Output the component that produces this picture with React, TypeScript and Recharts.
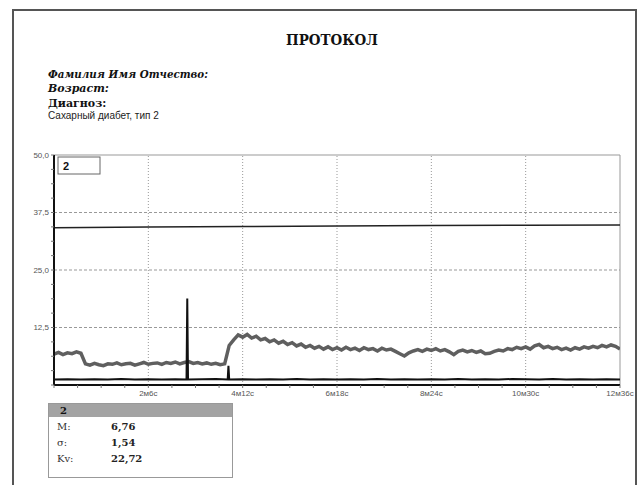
import { LineChart, Line, XAxis, YAxis, ReferenceLine } from 'recharts'

// sampling step of the glucose trace, seconds
const STEP = 6

const glucose = [
  6.7, 7.1, 6.6, 7.0, 6.8, 7.2, 6.9,
  4.6, 4.3, 4.7, 4.4, 4.2, 4.6, 4.5, 4.8, 4.4, 4.6, 4.7, 4.3, 4.6, 4.9, 4.5, 4.7,
  4.8, 4.5, 4.9, 4.7, 5.0, 4.6, 4.9, 5.1, 4.7, 4.9, 4.6, 4.8, 4.5, 4.7, 4.4, 4.6,
  8.6, 9.8, 10.9, 10.4, 11.0, 10.2, 10.6, 9.8, 10.1, 9.4, 9.8, 9.1, 9.5, 8.8, 9.2,
  8.5, 8.9, 8.2, 8.6, 8.0, 8.4, 7.8, 8.3, 7.7, 8.1, 7.6, 8.2, 7.7, 8.0, 7.5, 8.1,
  7.7, 7.9, 7.4, 8.0, 7.6, 7.8, 7.3, 6.8, 6.3, 7.0, 7.4, 7.7, 7.3, 7.8, 7.5, 7.9,
  7.4, 7.7, 7.2, 6.6, 7.3, 7.6, 7.2, 7.5, 7.1, 7.4, 6.8, 6.9, 7.3, 7.6, 7.4, 7.9,
  7.7, 8.2, 7.9, 8.3, 7.8, 8.5, 8.8, 8.1, 8.4, 7.9, 8.2, 7.7, 8.0, 7.6, 8.1, 7.8,
  8.3, 8.0, 8.4, 8.1, 8.6, 8.3, 8.7, 8.4, 7.8,
]

const upperTrace: [number, number][] = [
  [0, 34.2], [126, 34.35], [252, 34.45], [378, 34.55], [504, 34.65], [630, 34.75], [756, 34.8],
]

const lowerTrace: [number, number][] = [
  [0, 1.2], [18, 1.25], [36, 1.2], [54, 1.25], [72, 1.2], [90, 1.3], [108, 1.2], [126, 1.25],
  [144, 1.2], [162, 1.25], [177, 1.2], [178, 18.8], [179, 1.2], [198, 1.25], [216, 1.3],
  [232, 1.2], [233, 4.2], [234, 1.2], [252, 1.25], [270, 1.2], [288, 1.25], [306, 1.2],
  [324, 1.3], [342, 1.2], [360, 1.25], [378, 1.2], [396, 1.25], [414, 1.2], [432, 1.3],
  [450, 1.2], [468, 1.25], [486, 1.2], [504, 1.25], [522, 1.2], [540, 1.3], [558, 1.2],
  [576, 1.25], [594, 1.2], [612, 1.3], [630, 1.25], [648, 1.2], [666, 1.3], [684, 1.2],
  [702, 1.25], [720, 1.2], [738, 1.25], [756, 1.2],
]

const majorTicks = [126, 252, 378, 504, 630, 756]
const majorLabels = ['2м6с', '4м12с', '6м18с', '8м24с', '10м30с', '12м36с']
const yMajor = [12.5, 25, 37.5, 50]
const yLabels = ['12,5', '25,0', '37,5', '50,0']

const stats = [
  { label: 'M:', value: '6,76' },
  { label: 'σ:', value: '1,54' },
  { label: 'Kv:', value: '22,72' },
]

const glucoseData = glucose.map((v, i) => ({ t: i * STEP, v }))
const upperData = upperTrace.map(([t, v]) => ({ t, v }))
const lowerData = lowerTrace.map(([t, v]) => ({ t, v }))

const xTicks = Array.from({ length: 25 }, (_, i) => i * 31.5)
const yTicks = Array.from({ length: 17 }, (_, i) => i * 3.125)

const fmtX = (t: number) => {
  const i = majorTicks.indexOf(t)
  return i >= 0 ? majorLabels[i] : ''
}
const fmtY = (v: number) => {
  const i = yMajor.indexOf(v)
  return i >= 0 ? yLabels[i] : ''
}

const serif = '"DejaVu Serif", serif'
const sans = '"Liberation Sans", Arial, sans-serif'

const App = () => {
  return (
    <div style={{ position: 'absolute', left: 0, top: 0, width: 640, height: 485, overflow: 'hidden', background: '#fff' }}>
      <div style={{ position: 'absolute', left: 0, top: 0 }}>
        <LineChart width={640} height={485} margin={{ top: 155, right: 20, bottom: 80, left: 10 }}>
          <XAxis
            dataKey="t"
            type="number"
            domain={[0, 756]}
            ticks={xTicks}
            tickFormatter={fmtX}
            interval={0}
            height={20}
            tickSize={3}
            axisLine={{ stroke: '#111', strokeWidth: 2 }}
            tickLine={{ stroke: '#777' }}
            tick={{ fontSize: 8, fill: '#555', fontFamily: sans }}
            allowDataOverflow
          />
          <YAxis
            type="number"
            domain={[0, 50]}
            ticks={yTicks}
            tickFormatter={fmtY}
            interval={0}
            width={44}
            tickSize={3}
            axisLine={{ stroke: '#111', strokeWidth: 2 }}
            tickLine={{ stroke: '#777' }}
            tick={{ fontSize: 8, fill: '#555', fontFamily: sans }}
            allowDataOverflow
          />
          {yMajor.slice(0, 3).map((y) => (
            <ReferenceLine key={'h' + y} y={y} stroke="#999" strokeDasharray="3 2" />
          ))}
          {majorTicks.slice(0, 5).map((x) => (
            <ReferenceLine key={'v' + x} x={x} stroke="#999" strokeDasharray="1 2" />
          ))}
          <ReferenceLine y={50} stroke="#999" />
          <ReferenceLine x={756} stroke="#999" />
          <Line data={upperData} dataKey="v" type="linear" stroke="#222" strokeWidth={1.5} dot={false} isAnimationActive={false} />
          <Line data={glucoseData} dataKey="v" type="linear" stroke="#5f5f5f" strokeWidth={3.5} strokeLinejoin="miter" dot={false} isAnimationActive={false} />
          <Line data={lowerData} dataKey="v" type="linear" stroke="#111" strokeWidth={2} dot={false} isAnimationActive={false} />
        </LineChart>
      </div>
      <svg width={640} height={485} style={{ position: 'absolute', left: 0, top: 0, pointerEvents: 'none' }}>
        <path d="M13,485 V10 H636 V485" fill="none" stroke="#555" strokeWidth={2} />
        <text x={286} y={45} fontFamily={serif} fontWeight="bold" fontSize={14} fill="#111" textLength={92} lengthAdjust="spacingAndGlyphs">
          ПРОТОКОЛ
        </text>
        <text x={48} y={78} fontFamily={serif} fontWeight="bold" fontStyle="italic" fontSize={11} fill="#111" textLength={160} lengthAdjust="spacingAndGlyphs">
          Фамилия Имя Отчество:
        </text>
        <text x={48} y={92} fontFamily={serif} fontWeight="bold" fontStyle="italic" fontSize={11} fill="#111">
          Возраст:
        </text>
        <text x={48} y={107} fontFamily={serif} fontWeight="bold" fontSize={11} fill="#111">
          Диагноз:
        </text>
        <text x={48} y={119} fontFamily={sans} fontSize={10} fill="#222">
          Сахарный диабет, тип 2
        </text>

        <rect x={58} y={157} width={42} height={17} fill="#fff" stroke="#666" />
        <text x={63} y={170} fontFamily={sans} fontWeight="bold" fontSize={11} fill="#111">2</text>

        <rect x={48.5} y={403.5} width={184} height={74} fill="#fff" stroke="#999" />
        <rect x={49} y={404} width={183} height={13} fill="#a3a3a3" />
        <text x={60} y={414} fontFamily={serif} fontWeight="bold" fontSize={10} fill="#111">2</text>
        {stats.map((s, i) => (
          <g key={s.label}>
            <text x={57} y={430 + i * 16} fontFamily={serif} fontSize={10} fill="#333">{s.label}</text>
            <text x={111} y={430 + i * 16} fontFamily={serif} fontWeight="bold" fontSize={10} fill="#222">{s.value}</text>
          </g>
        ))}
      </svg>
    </div>
  )
}

export default App
